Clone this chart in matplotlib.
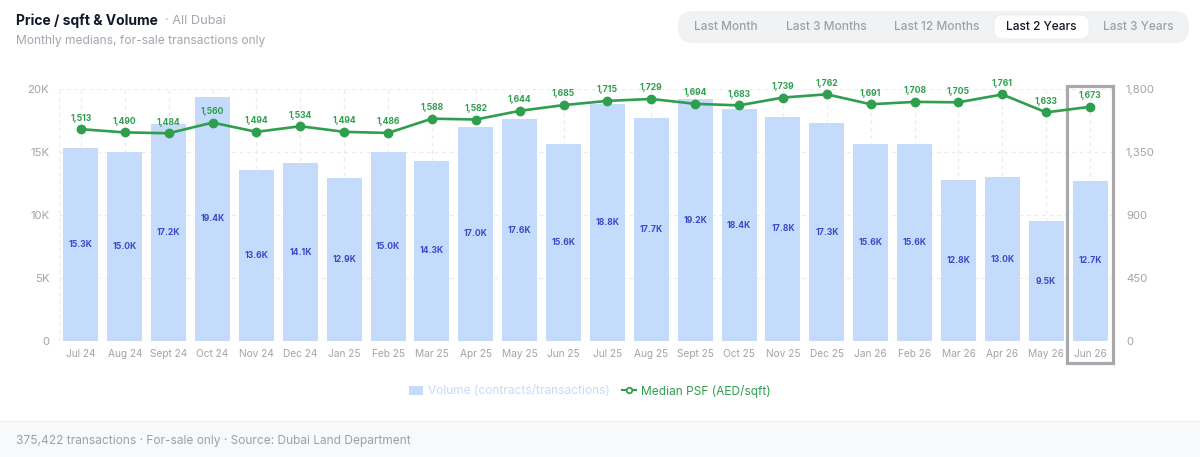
import matplotlib
matplotlib.use("Agg")
import matplotlib.pyplot as plt
from matplotlib.patches import FancyBboxPatch, Rectangle, Patch
from matplotlib.lines import Line2D
import matplotlib.transforms as mtransforms

plt.rcParams['font.family'] = ['Inter', 'DejaVu Sans']

months = ["Jul 24", "Aug 24", "Sept 24", "Oct 24", "Nov 24", "Dec 24", "Jan 25", "Feb 25",
          "Mar 25", "Apr 25", "May 25", "Jun 25", "Jul 25", "Aug 25", "Sept 25", "Oct 25",
          "Nov 25", "Dec 25", "Jan 26", "Feb 26", "Mar 26", "Apr 26", "May 26", "Jun 26"]
volume_k = [15.3, 15.0, 17.2, 19.4, 13.6, 14.1, 12.9, 15.0, 14.3, 17.0, 17.6, 15.6,
            18.8, 17.7, 19.2, 18.4, 17.8, 17.3, 15.6, 15.6, 12.8, 13.0, 9.5, 12.7]
psf = [1513, 1490, 1484, 1560, 1494, 1534, 1494, 1486, 1588, 1582, 1644, 1685,
       1715, 1729, 1694, 1683, 1739, 1762, 1691, 1708, 1705, 1761, 1633, 1673]
left_ticks = [0, 5000, 10000, 15000, 20000]
left_tick_labels = ["0", "5K", "10K", "15K", "20K"]
right_ticks = [0, 450, 900, 1350, 1800]
right_tick_labels = ["0", "450", "900", "1,350", "1,800"]
ranges = ["Last Month", "Last 3 Months", "Last 12 Months", "Last 2 Years", "Last 3 Years"]
active_range = "Last 2 Years"

W, H = 1200, 457
BAR = "#c4dbfb"
BAR_TXT = "#3b4bc8"
GREEN = "#2f9e4f"
TICK = "#a3a3ab"
GRID = "#ebebeb"

fig = plt.figure(figsize=(W / 100, H / 100), dpi=100)
fig.patch.set_facecolor("white")

def fx(x):
    return x / W

def fy(y):
    return 1 - y / H

# footer
fig.patches.append(Rectangle((0, 0), 1, fy(421), transform=fig.transFigure,
                             facecolor="#f8f9fb", edgecolor="none", zorder=0))
fig.add_artist(Line2D([0, 1], [fy(421), fy(421)], transform=fig.transFigure,
                      color="#eceef2", lw=0.8))
fig.text(fx(16), fy(441), "375,422 transactions · For-sale only · Source: Dubai Land Department",
         fontsize=8.6, color="#9ca0ab", va="center", ha="left")

# title
t = fig.text(fx(16), fy(21), "Price / sqft & Volume", fontsize=10, fontweight="bold",
             color="#111827", va="center", ha="left")
fig.canvas.draw()
bb = t.get_window_extent()
fig.text(fx(bb.x1 + 7), fy(21), "· All Dubai", fontsize=9.2, color="#a3a7b0",
         va="center", ha="left")
fig.text(fx(16), fy(41), "Monthly medians, for-sale transactions only", fontsize=8.7,
         color="#a3a7b0", va="center", ha="left")

# range buttons
grp = FancyBboxPatch((fx(678), fy(43)), fx(1189 - 678), (43 - 11) / H,
                     boxstyle="round,pad=0,rounding_size=0.012", mutation_aspect=W / H,
                     transform=fig.transFigure, facecolor="#f1f2f4", edgecolor="none")
fig.patches.append(grp)
btn_x = [726, 826, 937, 1041, 1138]
for name, cx in zip(ranges, btn_x):
    if name == active_range:
        act = FancyBboxPatch((fx(994), fy(39)), fx(1089 - 994), (39 - 15) / H,
                             boxstyle="round,pad=0,rounding_size=0.007", mutation_aspect=W / H,
                             transform=fig.transFigure, facecolor="white", edgecolor="#e9eaee",
                             lw=0.5)
        fig.patches.append(act)
        fig.text(fx(cx), fy(27), name, fontsize=8.6, color="#111827", fontweight="medium",
                 ha="center", va="center")
    else:
        fig.text(fx(cx), fy(27), name, fontsize=8.6, color="#9ea1aa", fontweight="medium",
                 ha="center", va="center")

# axes
ax = fig.add_axes([fx(59), fy(341), fx(1112 - 59), (341 - 89) / H])
ax.set_facecolor("none")
x = list(range(len(months)))
ax.bar(x, [v * 1000 for v in volume_k], width=0.8, color=BAR, zorder=2)
for xi, v in zip(x, volume_k):
    ax.text(xi, v * 1000 / 2, f"{v:.1f}K", ha="center", va="center", fontsize=6.2,
            fontweight="bold", color=BAR_TXT, zorder=3)
ax.set_xlim(-0.5, len(months) - 0.5)
ax.set_ylim(0, 20000)
ax.set_yticks(left_ticks)
ax.set_yticklabels(left_tick_labels)
ax.set_xticks(x)
ax.set_xticklabels(months)
for s in ax.spines.values():
    s.set_visible(False)
ax.tick_params(axis="both", length=0, colors=TICK)
ax.tick_params(axis="y", labelsize=8.2, pad=7)
ax.tick_params(axis="x", labelsize=7.3, pad=6)
for yt in left_ticks:
    ax.axhline(yt, color=GRID, lw=0.9, ls=(0, (3, 3)), zorder=1)
for xi in x:
    ax.axvline(xi, color=GRID, lw=0.9, ls=(0, (3, 3)), zorder=1)
ax.axvline(-0.5, color=GRID, lw=0.9, ls=(0, (3, 3)), zorder=1)

ax2 = ax.twinx()
ax2.set_ylim(0, 1800)
ax2.set_yticks(right_ticks)
ax2.set_yticklabels(right_tick_labels)
for s in ax2.spines.values():
    s.set_visible(False)
ax2.tick_params(axis="y", length=0, colors=TICK, labelsize=8.2, pad=10)
ax2.plot(x, psf, color=GREEN, lw=1.9, marker="o", markersize=6, zorder=4)
for xi, p in zip(x, psf):
    ax2.annotate(f"{p:,}", (xi, p), xytext=(0, 8), textcoords="offset points",
                 ha="center", va="center", fontsize=6.2, fontweight="bold", color=GREEN)

# highlight box for last month
trans = mtransforms.blended_transform_factory(ax.transData, ax.transAxes)
last = len(months) - 1
ax.add_patch(Rectangle((last - 0.52, (341 - 363) / 252), 1.04, (363 - 86) / 252,
                       transform=trans, fill=False, edgecolor="#a9a9ad", lw=2.3,
                       clip_on=False, zorder=5))

# legend
handles = [Patch(facecolor=BAR, edgecolor="none"),
           Line2D([], [], color=GREEN, lw=1.5, marker="o", markersize=4,
                  markerfacecolor="white", markeredgecolor=GREEN, markeredgewidth=1.3)]
leg = fig.legend(handles, ["Volume (contracts/transactions)", "Median PSF (AED/sqft)"],
                 loc="center", bbox_to_anchor=(fx(590), fy(391)), ncol=2, frameon=False,
                 fontsize=8.6, handlelength=1.2, handletextpad=0.4, columnspacing=1.0)
leg.get_texts()[0].set_color(BAR)
leg.get_texts()[1].set_color(GREEN)

fig.savefig("out.png", dpi=100)
